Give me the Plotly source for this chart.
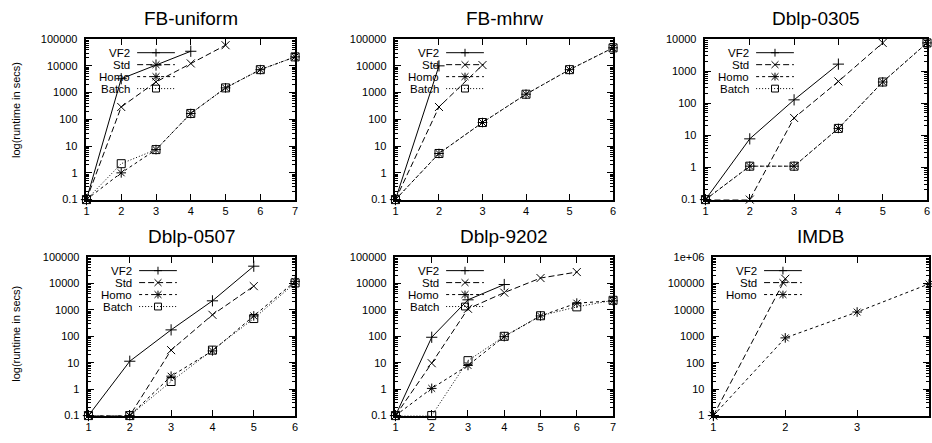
import plotly.graph_objects as go

W, H = 932, 443

# ---------------- data ----------------
series_names = ["VF2", "Std", "Homo", "Batch"]

fbu_x = [1, 2, 3, 4, 5, 6, 7]
fbu_vf2 = [0.1, 3300, 10700, 35000]
fbu_std = [0.1, 290, 2500, 12300, 59000]
fbu_homo = [0.1, 1.0, 7.4, 166, 1500, 7200, 21600]
fbu_batch = [0.1, 2.2, 7.4, 166, 1500, 7200, 21600]

fbm_x = [1, 2, 3, 4, 5, 6]
fbm_vf2 = [0.1, 10000]
fbm_std = [0.1, 290, 10700]
fbm_homo = [0.1, 5.3, 76, 870, 7200, 47000]
fbm_batch = [0.1, 5.3, 76, 870, 7200, 47000]

d0305_x = [1, 2, 3, 4, 5, 6]
d0305_vf2 = [0.1, 7.8, 128, 1660]
d0305_std = [0.1, 0.1, 35, 480, 7600]
d0305_homo = [0.1, 1.1, 1.1, 16.5, 460, 7600]
d0305_batch = [0.1, 1.1, 1.1, 16.5, 460, 7600]

d0507_x = [1, 2, 3, 4, 5, 6]
d0507_vf2 = [0.1, 11.4, 175, 2200, 45000]
d0507_std = [0.1, 0.1, 30, 650, 7900]
d0507_homo = [0.1, 0.1, 3.1, 28, 590, 12000]
d0507_batch = [0.1, 0.1, 1.95, 30, 470, 10500]

d9202_x = [1, 2, 3, 4, 5, 6, 7]
d9202_vf2 = [0.1, 92, 2400, 9100]
d9202_std = [0.1, 9.6, 1100, 4500, 16000, 27000]
d9202_homo = [0.1, 1.07, 7.9, 97, 590, 1800, 2200]
d9202_batch = [0.1, 0.1, 12, 100, 600, 1300, 2300]

imdb_x = [1, 2, 3, 4]
imdb_vf2 = [1]
imdb_std = [1, 150000]
imdb_homo = [1, 870, 8300, 96000]

y_title = "log(runtime in secs)"

# ---------------- layout of the panels (pixels) ----------------
panels = [
    dict(title="FB-uniform", x=fbu_x, data=[fbu_vf2, fbu_std, fbu_homo, fbu_batch],
         px=(84, 294), py=(34, 199), yr=(-1, 5), xr=(1, 7), ylab=107),
    dict(title="FB-mhrw", x=fbm_x, data=[fbm_vf2, fbm_std, fbm_homo, fbm_batch],
         px=(395, 614), py=(34, 199), yr=(-1, 5), xr=(1, 6), ylab=None),
    dict(title="Dblp-0305", x=d0305_x, data=[d0305_vf2, d0305_std, d0305_homo, d0305_batch],
         px=(707, 930), py=(34, 199), yr=(-1, 4), xr=(1, 6), ylab=None),
    dict(title="Dblp-0507", x=d0507_x, data=[d0507_vf2, d0507_std, d0507_homo, d0507_batch],
         px=(86, 294), py=(258, 421), yr=(-1, 5), xr=(1, 6), ylab=337),
    dict(title="Dblp-9202", x=d9202_x, data=[d9202_vf2, d9202_std, d9202_homo, d9202_batch],
         px=(395, 614), py=(258, 421), yr=(-1, 5), xr=(1, 7), ylab=None),
    dict(title="IMDB", x=imdb_x, data=[imdb_vf2, imdb_std, imdb_homo],
         px=(715, 932), py=(258, 421), yr=(0, 6), xr=(1, 4), ylab=None),
]

styles = [
    dict(dash="solid", symbol="cross-thin-open", mk="cross"),
    dict(dash="6px,3px", symbol="x-thin-open", mk="x"),
    dict(dash="3px,3px", symbol="asterisk-open", mk="asterisk"),
    dict(dash="1px,2px", symbol="square-open", mk="square"),
]

FONT = "Liberation Sans, Arial, Helvetica, sans-serif"


def fx(p):
    return p / W


def fy(p):
    return 1 - p / H


def ylabel_text(v):
    if v >= 1e6:
        return "%de+%02d" % (1, len(str(int(v))) - 1)
    if v < 1:
        return "%g" % v
    return str(int(v))


fig = go.Figure()
shapes = []
annotations = []
layout = {}

for i, p in enumerate(panels, start=1):
    xa = "x" if i == 1 else "x%d" % i
    ya = "y" if i == 1 else "y%d" % i
    for k, vals in enumerate(p["data"]):
        st = styles[k]
        fig.add_trace(go.Scatter(
            x=p["x"][:len(vals)], y=vals, name=series_names[k],
            mode="lines+markers", xaxis=xa, yaxis=ya, cliponaxis=False,
            line=dict(color="black", width=1, dash=st["dash"]),
            marker=dict(symbol=st["symbol"], size=8, color="black",
                        line=dict(color="black", width=1)),
            showlegend=False,
        ))

    lo, hi = p["yr"]
    ytv = [10.0 ** e for e in range(lo, hi + 1)]
    ytt = [ylabel_text(v) for v in ytv]
    minor_v = [m * 10.0 ** e for e in range(lo, hi) for m in range(2, 10)]
    xtv = list(range(p["xr"][0], p["xr"][1] + 1))

    common = dict(showline=True, linecolor="black", linewidth=1.5, mirror="allticks",
                  ticks="inside", ticklen=6, tickwidth=1, tickcolor="black",
                  showgrid=False, zeroline=False,
                  tickfont=dict(family=FONT, size=11, color="black"))
    layout["xaxis" if i == 1 else "xaxis%d" % i] = dict(
        common, domain=[fx(p["px"][0]), min(1.0, fx(p["px"][1]))],
        range=list(p["xr"]), tickmode="array", tickvals=xtv,
        anchor=ya, fixedrange=True)
    layout["yaxis" if i == 1 else "yaxis%d" % i] = dict(
        common, type="log", domain=[fy(p["py"][1]), fy(p["py"][0])],
        range=[lo, hi], tickmode="array", tickvals=ytv, ticktext=ytt,
        ticklabelstandoff=5,
        minor=dict(ticks="inside", ticklen=3, tickwidth=1, tickcolor="black",
                   tickmode="array", tickvals=minor_v, showgrid=False),
        anchor=xa, fixedrange=True)

    # title
    cxp = (p["px"][0] + p["px"][1]) / 2
    annotations.append(dict(
        text=p["title"], xref="paper", yref="paper",
        x=fx(cxp), y=fy(p["py"][0]), yanchor="bottom", xanchor="center", yshift=8,
        showarrow=False, font=dict(family=FONT, size=19, color="black")))

    if p["ylab"] is not None:
        annotations.append(dict(
            text=y_title, xref="paper", yref="paper", x=fx(13), y=fy(p["ylab"]),
            textangle=-90, showarrow=False, xanchor="center", yanchor="middle",
            font=dict(family=FONT, size=11, color="black")))

    # gnuplot-style key: label, line sample, point sample
    left, top = p["px"][0], p["py"][0]
    for k in range(len(p["data"])):
        st = styles[k]
        ry = top + 14 + 12.3 * k
        annotations.append(dict(
            text=series_names[k], xref="paper", yref="paper",
            x=fx(left + 46), y=fy(ry), xanchor="right", yanchor="middle",
            showarrow=False, font=dict(family=FONT, size=11.5, color="black")))
        shapes.append(dict(type="line", xref="paper", yref="paper",
                           x0=fx(left + 51), x1=fx(left + 89), y0=fy(ry), y1=fy(ry),
                           line=dict(color="black", width=1, dash=st["dash"])))
        cx = left + 70
        segs = []
        if st["mk"] in ("cross", "asterisk"):
            segs += [((cx - 4, ry), (cx + 4, ry)), ((cx, ry - 4), (cx, ry + 4))]
        if st["mk"] in ("x", "asterisk"):
            segs += [((cx - 3.5, ry - 3.5), (cx + 3.5, ry + 3.5)),
                     ((cx - 3.5, ry + 3.5), (cx + 3.5, ry - 3.5))]
        for (a, b) in segs:
            shapes.append(dict(type="line", xref="paper", yref="paper",
                               x0=fx(a[0]), y0=fy(a[1]), x1=fx(b[0]), y1=fy(b[1]),
                               line=dict(color="black", width=1)))
        if st["mk"] == "square":
            shapes.append(dict(type="rect", xref="paper", yref="paper",
                               x0=fx(cx - 3.5), x1=fx(cx + 3.5),
                               y0=fy(ry - 3.5), y1=fy(ry + 3.5),
                               line=dict(color="black", width=1), fillcolor="rgba(0,0,0,0)"))

fig.update_layout(
    width=W, height=H, margin=dict(l=0, r=0, t=0, b=0),
    paper_bgcolor="white", plot_bgcolor="white", showlegend=False,
    shapes=shapes, annotations=annotations,
    font=dict(family=FONT, color="black"),
    **layout,
)

fig.write_html("out.html", config={"displayModeBar": False},
               post_script="document.body.style.margin='0';document.body.style.overflow='hidden';")
